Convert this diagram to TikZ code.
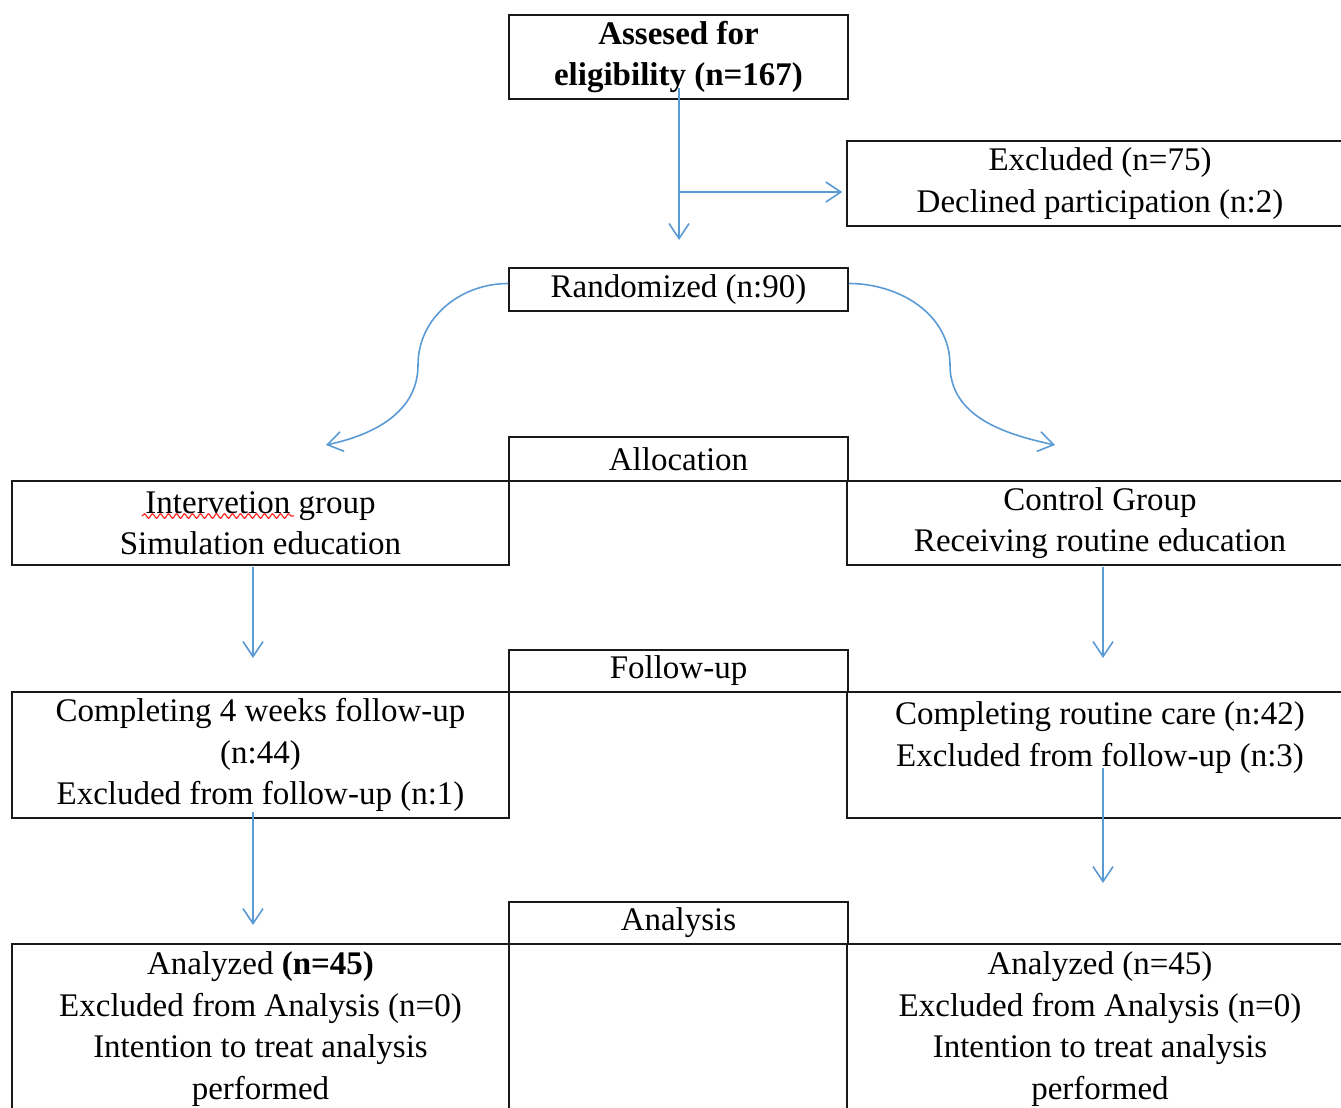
\documentclass[tikz,border=0pt]{standalone}
\usepackage{fontspec}
\setmainfont{Liberation Serif}
\usetikzlibrary{arrows.meta,decorations.pathmorphing}
\definecolor{flowblue}{RGB}{91,155,213}
\begin{document}
\begin{tikzpicture}[x=1pt,y=1pt,
        box/.style={draw=black!90, line width=1.5pt, align=center, inner sep=0pt,
            font=\fontsize{33}{41.5}\selectfont},
        midbox/.style={box, minimum width=339pt},
        leftbox/.style={box, minimum width=497pt},
        rightbox/.style={box, minimum width=506pt},
        flow/.style={draw=flowblue, line width=1.6pt,
            -{Straight Barb[length=15pt,width=20pt,line width=1.6pt]}}]
    \useasboundingbox (0,0) rectangle (1341,-1108);
    \clip (0,0) rectangle (1341,-1108);
    % boxes
    \node[midbox, minimum height=84pt, font=\fontsize{33}{41.5}\selectfont\bfseries] (assess) at (678.5,-57)
        {Assesed for\\eligibility (n=167)};
    \node[rightbox, minimum height=85pt] (excl) at (1100,-183.5)
        {Excluded (n=75)\\Declined participation (n:2)};
    \node[midbox, minimum height=43pt] (rand) at (678.5,-289.5) {Randomized (n:90)};
    \node[midbox, minimum height=44pt] (alloc) at (678.5,-459) {Allocation};
    \node[leftbox, minimum height=84pt] (interv) at (260.5,-523)
        {Intervetion group\\Simulation education};
    \node[rightbox, minimum height=84pt] (ctrl) at (1100,-523)
        {Control Group\\Receiving routine education};
    \node[midbox, minimum height=42pt] (follow) at (678.5,-671) {Follow-up};
    \node[leftbox, minimum height=126pt] (fuL) at (260.5,-755)
        {Completing 4 weeks follow-up\\(n:44)\\Excluded from follow-up (n:1)};
    \node[rightbox, minimum height=126pt] (fuR) at (1100,-755)
        {Completing routine care (n:42)\\Excluded from follow-up (n:3)\\\mbox{}};
    \node[midbox, minimum height=42pt] (analysis) at (678.5,-923) {Analysis};
    \node[leftbox, minimum height=170pt] (anL) at (260.5,-1029)
        {Analyzed \textbf{(n=45)}\\Excluded from Analysis (n=0)\\Intention to treat analysis\\performed};
    \node[rightbox, minimum height=170pt] (anR) at (1100,-1029)
        {Analyzed (n=45)\\Excluded from Analysis (n=0)\\Intention to treat analysis\\performed};
    % spell-check mark
    \draw[red!85, line width=1.2pt, decorate,
        decoration={snake, segment length=8pt, amplitude=2.2pt}] (142,-516) -- (294,-516);
    % arrows
    \coordinate (top) at (679,-88);
    \coordinate (split) at (679,-192);
    \coordinate (randtip) at (679,-240);
    \draw[flow] (top) -- (randtip);
    \draw[flow] (split) -- ([xshift=-4pt]excl.west |- split);
    \draw[flow] ([yshift=6pt]rand.west) to[out=180,in=90] (418,-365) to[out=-90,in=12] (326,-445);
    \draw[flow] ([yshift=6pt]rand.east) to[out=0,in=90] (950,-365) to[out=-90,in=168] (1055,-445);
    \coordinate (tipL1) at (253,-658);
    \coordinate (tipR1) at (1103,-658);
    \draw[flow] (253,-567) -- (tipL1);
    \draw[flow] (1103,-567) -- (tipR1);
    \coordinate (tipL2) at (253,-925);
    \coordinate (tipR2) at (1103,-883);
    \draw[flow] (253,-812) -- (tipL2);
    \draw[flow] (1103,-768) -- (tipR2);
\end{tikzpicture}
\end{document}
